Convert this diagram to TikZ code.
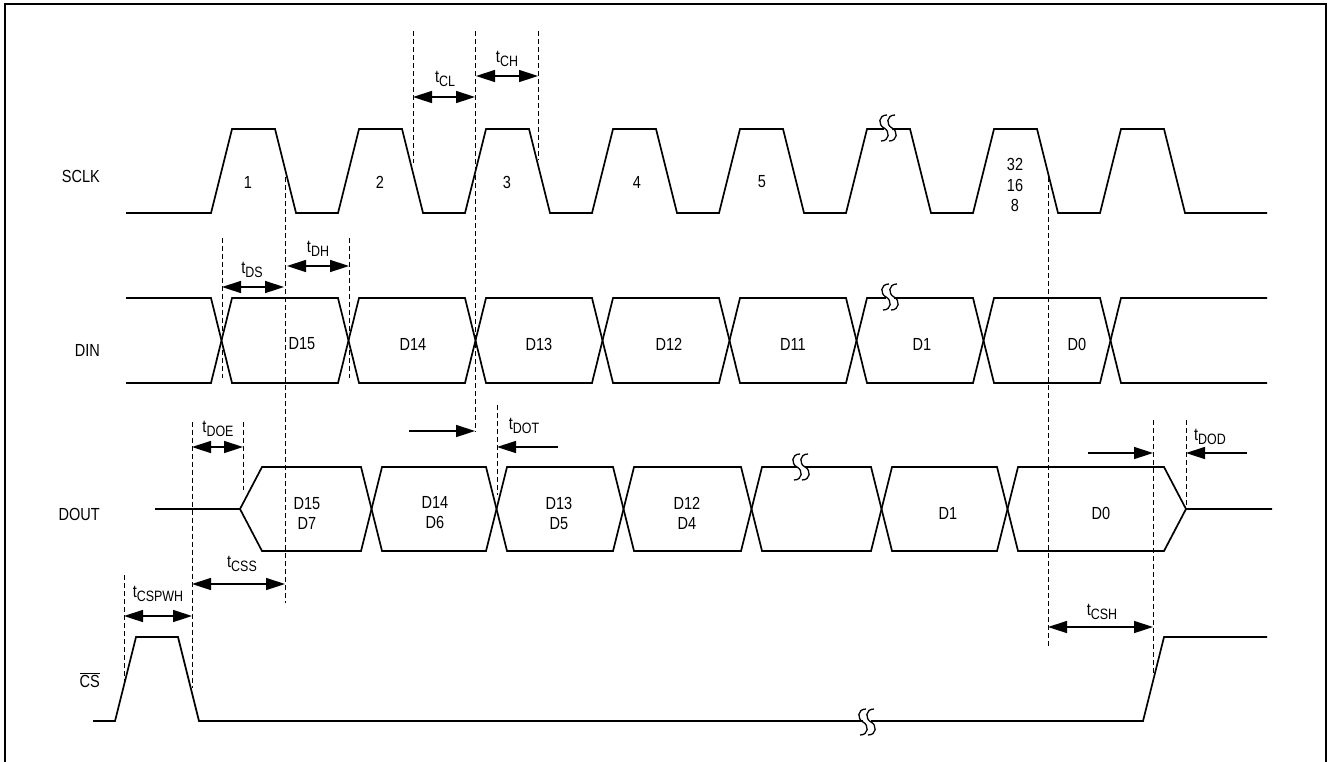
\documentclass[tikz,border=0pt]{standalone}
\usepackage{fontspec}
\setmainfont[FakeStretch=0.83]{Liberation Sans}
\usetikzlibrary{arrows.meta}
\newcommand\tlab[1]{t\raisebox{-3.5pt}{\fontsize{15}{16}\selectfont #1}}
\tikzset{
  sig/.style={line width=1.7pt, line join=miter},
  guide/.style={line width=1pt, dash pattern=on 5pt off 3pt, black},
  dimarrow/.style={line width=1.5pt, {Triangle[length=19pt,width=12pt]}-{Triangle[length=19pt,width=12pt]}},
  onearrow/.style={line width=1.5pt, -{Triangle[length=19pt,width=12pt]}},
  lab/.style={inner sep=0pt, font=\fontsize{17.5}{21}\selectfont},
  brk/.pic={
    \fill[white] (-4,-11) rectangle (4,11);
    \draw[line width=1.3pt] (-1,-13) .. controls (-10,-13) and (-10,-3) .. (-4,0) .. controls (2,3) and (2,13) .. (-7,13);
    \draw[line width=1.3pt] (7,-13) .. controls (-2,-13) and (-2,-3) .. (4,0) .. controls (10,3) and (10,13) .. (1,13);
  }
}
\begin{document}
\begin{tikzpicture}[x=1pt,y=-1pt]
\useasboundingbox (0,0) rectangle (1328,761);
% frame
\draw[line width=2.5pt] (5,770) -- (5,4) -- (1326,4) -- (1326,770);

% signal names
\node[lab,anchor=east] (nsclk) at (100,176) {SCLK};
\node[lab,anchor=east] (ndin) at (100,350) {DIN};
\node[lab,anchor=east] (ndout) at (100,514) {DOUT};
\node[lab,anchor=east] (ncs) at (100,680) {$\overline{\mbox{CS}}$};

% SCLK
\draw[sig] (126,213) \foreach \k in {0,...,7} { -- ({211+127*\k},213) -- ({232+127*\k},129) -- ({275+127*\k},129) -- ({296+127*\k},213) } -- (1267,213);
\node[lab] (c1) at (248,182) {1};
\node[lab] (c2) at (380,182) {2};
\node[lab] (c3) at (507,182) {3};
\node[lab] (c4) at (637,182) {4};
\node[lab] (c5) at (762,182) {5};
\node[lab,align=center] (c32) at (1015,185) {32\\[-0.5pt]16\\[-0.5pt]8};

% DIN
\draw[sig] (126,298) -- (211,298) -- (232,383) -- (338,383) -- (359,298) -- (465,298) -- (486,383) -- (592,383) -- (613,298) -- (719,298) -- (740,383) -- (846,383) -- (867,298) -- (973,298) -- (994,383) -- (1100,383) -- (1121,298) -- (1267,298);
\draw[sig] (126,383) -- (211,383) -- (232,298) -- (338,298) -- (359,383) -- (465,383) -- (486,298) -- (592,298) -- (613,383) -- (719,383) -- (740,298) -- (846,298) -- (867,383) -- (973,383) -- (994,298) -- (1100,298) -- (1121,383) -- (1267,383);
\node[lab] (d15) at (302,344) {D15};
\node[lab] (d14) at (413,344) {D14};
\node[lab] (d13) at (539,344) {D13};
\node[lab] (d12) at (669,344) {D12};
\node[lab] (d11) at (793,344) {D11};
\node[lab] (d1) at (922,344) {D1};
\node[lab] (d0) at (1077,344) {D0};

% DOUT
\draw[sig] (155,509) -- (240,509) -- (262,467) -- (361,467) -- (382,551) -- (486,551) -- (507,467) -- (613,467) -- (634,551) -- (741,551) -- (762,467) -- (871,467) -- (892,551) -- (997,551) -- (1018,467) -- (1164,467) -- (1186,509) -- (1272,509);
\draw[sig] (240,509) -- (262,551) -- (361,551) -- (382,467) -- (486,467) -- (507,551) -- (613,551) -- (634,467) -- (741,467) -- (762,551) -- (871,551) -- (892,467) -- (997,467) -- (1018,551) -- (1164,551) -- (1186,509);
\node[lab,align=center] (o15) at (307,513) {D15\\[-1pt]D7};
\node[lab,align=center] (o14) at (435,513) {D14\\[-1pt]D6};
\node[lab,align=center] (o13) at (559,513) {D13\\[-1pt]D5};
\node[lab,align=center] (o12) at (687,513) {D12\\[-1pt]D4};
\node[lab] (o1) at (948,513) {D1};
\node[lab] (o0) at (1101,513) {D0};

% CS
\draw[sig] (93,721) -- (115,721) -- (136,637) -- (178,637) -- (199,721) -- (1143,721) -- (1164,637) -- (1267,637);

% break marks
\pic at (888,128) {brk};
\pic at (890,297) {brk};
\pic at (801,467) {brk};
\pic at (867,722) {brk};

% guide lines
\draw[guide] (285,177) -- (285,603);
\draw[guide] (222,238) -- (222,378);
\draw[guide] (349,238) -- (349,378);
\draw[guide] (413,31) -- (413,163);
\draw[guide] (475,31) -- (475,432);
\draw[guide] (538,31) -- (538,160);
\draw[guide] (497,405) -- (497,495);
\draw[guide] (192,422) -- (192,688);
\draw[guide] (243,422) -- (243,490);
\draw[guide] (124,575) -- (124,683);
\draw[guide] (1048,177) -- (1048,647);
\draw[guide] (1153,420) -- (1153,673);
\draw[guide] (1186,420) -- (1186,507);

% timing arrows
\coordinate (tcl-a) at (413,97);  \coordinate (tcl-b) at (475,97);
\draw[dimarrow] (tcl-a) -- (tcl-b);
\node[lab] (ltcl) at (445,79) {\tlab{CL}};
\coordinate (tch-a) at (476,76);  \coordinate (tch-b) at (538,76);
\draw[dimarrow] (tch-a) -- (tch-b);
\node[lab] (ltch) at (507,59) {\tlab{CH}};
\coordinate (tds-a) at (222,287); \coordinate (tds-b) at (284,287);
\draw[dimarrow] (tds-a) -- (tds-b);
\node[lab] (ltds) at (252,270) {\tlab{DS}};
\coordinate (tdh-a) at (287,266); \coordinate (tdh-b) at (349,266);
\draw[dimarrow] (tdh-a) -- (tdh-b);
\node[lab] (ltdh) at (318,249) {\tlab{DH}};
\coordinate (tdoe-a) at (192,447); \coordinate (tdoe-b) at (243,447);
\draw[dimarrow] (tdoe-a) -- (tdoe-b);
\node[lab] (ltdoe) at (218,429) {\tlab{DOE}};
\coordinate (tdot-a) at (409,431); \coordinate (tdot-b) at (475,431);
\draw[onearrow] (tdot-a) -- (tdot-b);
\coordinate (tdot-c) at (558,447); \coordinate (tdot-d) at (497,447);
\draw[onearrow] (tdot-c) -- (tdot-d);
\node[lab] (ltdot) at (524,426) {\tlab{DOT}};
\coordinate (tdod-a) at (1088,453); \coordinate (tdod-b) at (1153,453);
\draw[onearrow] (tdod-a) -- (tdod-b);
\coordinate (tdod-c) at (1247,453); \coordinate (tdod-d) at (1186,453);
\draw[onearrow] (tdod-c) -- (tdod-d);
\node[lab] (ltdod) at (1210,437) {\tlab{DOD}};
\coordinate (tcss-a) at (192,584); \coordinate (tcss-b) at (285,584);
\draw[dimarrow] (tcss-a) -- (tcss-b);
\node[lab] (ltcss) at (242,564) {\tlab{CSS}};
\coordinate (tpw-a) at (124,616); \coordinate (tpw-b) at (192,616);
\draw[dimarrow] (tpw-a) -- (tpw-b);
\node[lab] (ltpw) at (158,594) {\tlab{CSPWH}};
\coordinate (tcsh-a) at (1048,627); \coordinate (tcsh-b) at (1153,627);
\draw[dimarrow] (tcsh-a) -- (tcsh-b);
\node[lab] (ltcsh) at (1102,612) {\tlab{CSH}};
\end{tikzpicture}
\end{document}
